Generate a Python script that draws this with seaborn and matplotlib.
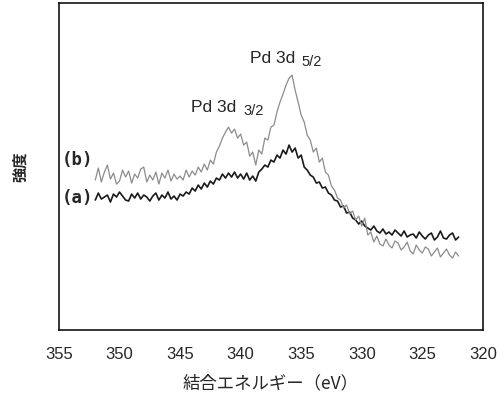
import numpy as np
import pandas as pd
import matplotlib
matplotlib.use("Agg")
import matplotlib.pyplot as plt
import seaborn as sns

# binding energy grid (eV), 0.25 eV steps from 352 down to 322
energy = np.linspace(352, 322, 121)

# (a) before, arbitrary intensity units
intensity_a = [
    130, 137, 131, 133, 135, 128, 136, 133, 138, 134, 130, 129, 136, 132, 137,
    131, 135, 133, 129, 134, 137, 130, 135, 132, 138, 131, 134, 130, 136,
    134, 138, 136, 142, 139, 145, 141, 147, 143, 149, 146, 152, 150, 156, 152,
    157, 153, 158, 152, 156, 151, 157, 150, 154, 149, 158, 161, 165, 163, 170,
    168, 175, 172, 180, 176, 185, 178, 182, 172, 175, 163, 160, 155, 153, 147,
    148, 142, 143, 137, 135, 130, 129, 123, 124, 117, 118,
    112, 110, 106, 109, 104, 102, 100, 104, 99, 97, 101, 96, 98, 95, 100, 97,
    94, 99, 93, 95, 96, 92, 98, 94, 91, 95, 97, 90, 93, 99, 92, 91, 95, 97,
    90, 93,
]

# (b) after
intensity_b = [
    150, 162, 148, 158, 165, 151, 157, 146, 149, 160, 153, 159, 147, 156, 152,
    161, 163, 148, 155, 150, 158, 146, 157, 152, 160, 149, 156, 151, 154,
    150, 160, 153, 159, 155, 163, 158, 166, 160, 170, 166, 178, 184, 192, 198,
    203, 197, 201, 192, 196, 185, 188, 174, 178, 165, 180, 176, 192, 190, 203,
    205, 218, 228, 236, 245, 252, 255, 240, 228, 215, 208, 195, 190, 178, 182,
    168, 172, 158, 155, 144, 140, 132, 130, 122, 125, 116, 119, 110, 114,
    104, 112, 95, 98, 88, 94, 86, 84, 91, 85, 82, 89, 87, 80, 83, 88, 79, 76,
    85, 80, 77, 83, 81, 74, 78, 82, 73, 77, 81, 75, 72, 78, 74,
]

x_ticks = [355, 350, 345, 340, 335, 330, 325, 320]

frame = pd.DataFrame({
    "energy": np.concatenate([energy, energy]),
    "intensity": intensity_a + intensity_b,
    "sample": ["a"] * len(energy) + ["b"] * len(energy),
})

sns.set_style("white")
plt.rcParams["font.family"] = ["Liberation Sans", "Noto Sans CJK JP", "DejaVu Sans"]

fig = plt.figure(figsize=(5.04, 3.98), dpi=100)
ax = fig.add_axes([0.117, 0.171, 0.841, 0.821])

sns.lineplot(data=frame, x="energy", y="intensity", hue="sample",
             palette={"a": "#1a1a1a", "b": "#8c8c8c"}, sort=False,
             linewidth=0.9, legend=False, ax=ax)
ax.lines[0].set_linewidth(1.2)

ax.set_xlim(355, 320)
ax.set_ylim(0, 327)
ax.set_xticks(x_ticks)
ax.set_xticklabels([str(t) for t in x_ticks], fontsize=12)
ax.set_yticks([])
ax.tick_params(axis="x", direction="in", length=4, width=1, pad=12, color="black")
for spine in ax.spines.values():
    spine.set_color("black")
    spine.set_linewidth(1.1)

ax.set_xlabel("結合エネルギー（eV）", family=["Noto Sans CJK JP"], fontsize=12.5, labelpad=9)
ax.set_ylabel("強度", family=["Noto Sans CJK JP"], fontsize=11, fontweight="bold", labelpad=22)

ax.text(354.8, 170, "(b)", family="DejaVu Sans Mono", fontweight="bold",
        fontsize=12.5, ha="left", va="center")
ax.text(354.8, 132, "(a)", family="DejaVu Sans Mono", fontweight="bold",
        fontsize=12.5, ha="left", va="center")

ax.text(339.23, 272, "Pd 3d", fontsize=12.5, ha="left", va="center")
ax.text(335.0, 268, "5/2", fontsize=10.5, ha="left", va="center")
ax.text(344.13, 223, "Pd 3d", fontsize=12.5, ha="left", va="center")
ax.text(339.8, 219, "3/2", fontsize=10.5, ha="left", va="center")

fig.savefig("out.png", dpi=100)
plt.close(fig)
